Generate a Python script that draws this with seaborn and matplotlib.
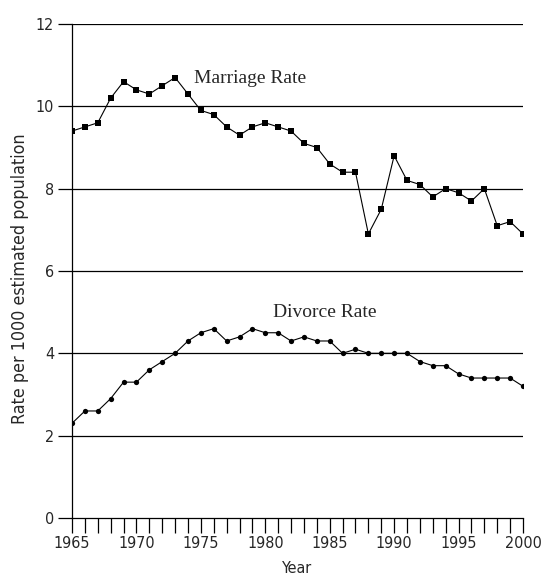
import matplotlib
matplotlib.use("Agg")
import matplotlib.pyplot as plt
from matplotlib.ticker import MultipleLocator
import seaborn as sns
import pandas as pd

years = list(range(1965, 2001))
marriage_rate = [9.4, 9.5, 9.6, 10.2, 10.6, 10.4, 10.3, 10.5, 10.7, 10.3,
                 9.9, 9.8, 9.5, 9.3, 9.5, 9.6, 9.5, 9.4, 9.1, 9.0,
                 8.6, 8.4, 8.4, 6.9, 7.5, 8.8, 8.2, 8.1, 7.8, 8.0,
                 7.9, 7.7, 8.0, 7.1, 7.2, 6.9]
divorce_rate = [2.3, 2.6, 2.6, 2.9, 3.3, 3.3, 3.6, 3.8, 4.0, 4.3,
                4.5, 4.6, 4.3, 4.4, 4.6, 4.5, 4.5, 4.3, 4.4, 4.3,
                4.3, 4.0, 4.1, 4.0, 4.0, 4.0, 4.0, 3.8, 3.7, 3.7,
                3.5, 3.4, 3.4, 3.4, 3.4, 3.2]
y_ticks = [0, 2, 4, 6, 8, 10, 12]
x_ticks = [1965, 1970, 1975, 1980, 1985, 1990, 1995, 2000]

sns.set_theme(style="white")
plt.rcParams['font.family'] = ['Liberation Sans Narrow', 'DejaVu Sans']
plt.rcParams['font.stretch'] = 'condensed'

df = pd.DataFrame({"Year": years, "Marriage": marriage_rate, "Divorce": divorce_rate})

fig = plt.figure(figsize=(5.41, 5.78), dpi=100)
ax = fig.add_axes([72/541, 60/578, (523-72)/541, (518-24)/578])

for y in y_ticks[1:]:
    ax.axhline(y, color="black", lw=0.9, zorder=1)

sns.lineplot(data=df, x="Year", y="Marriage", ax=ax, color="black", lw=0.8,
             marker="s", markersize=5, markeredgewidth=0, zorder=3)
sns.lineplot(data=df, x="Year", y="Divorce", ax=ax, color="black", lw=0.8,
             marker="o", markersize=3.8, markeredgewidth=0, zorder=3)

ax.set_xlim(1965, 2000)
ax.set_ylim(0, 12)
ax.set_yticks(y_ticks)
ax.set_xticks(x_ticks)
ax.xaxis.set_minor_locator(MultipleLocator(1))
ax.tick_params(axis="y", which="major", direction="out", length=10, width=0.9,
               color="black", labelsize=11.5, pad=3, left=True)
ax.tick_params(axis="x", which="both", direction="out", length=11, width=0.9,
               color="black", labelsize=11.5, pad=2, bottom=True)
for s in ["top", "right"]:
    ax.spines[s].set_visible(False)
for s in ["left", "bottom"]:
    ax.spines[s].set_color("black")
    ax.spines[s].set_linewidth(0.9)

ax.set_xlabel("Year", fontsize=11.5, labelpad=7)
ax.set_ylabel("Rate per 1000 estimated population", fontsize=12.8)
ax.yaxis.set_label_coords(-0.095, 0.485)

ax.text(1978.8, 10.68, "Marriage Rate", fontsize=14, ha="center", va="center",
        family=["Liberation Serif", "DejaVu Serif"], stretch="condensed")
ax.text(1984.6, 5.0, "Divorce Rate", fontsize=14, ha="center", va="center",
        family=["Liberation Serif", "DejaVu Serif"], stretch="condensed")

fig.savefig("out.png", dpi=100)
